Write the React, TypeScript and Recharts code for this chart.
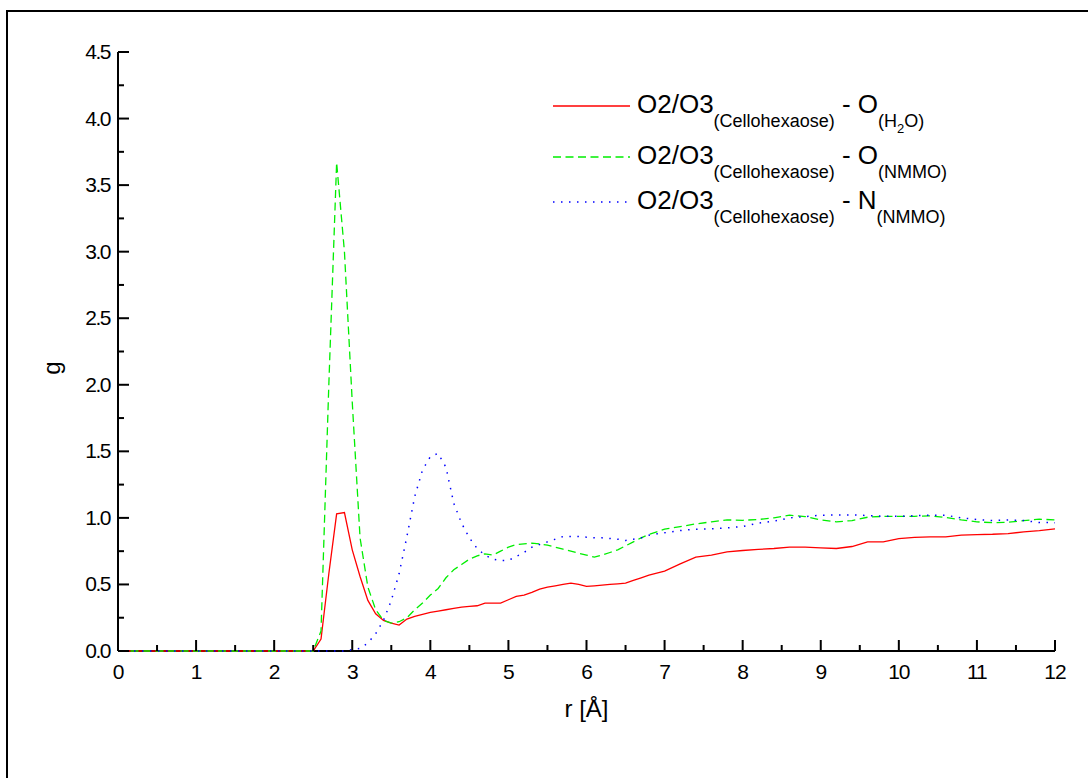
import React from 'react';
import { LineChart, Line, XAxis, YAxis } from 'recharts';

// r grid (Å)
const r = [
  0, 0.5, 1, 1.5, 2, 2.4, 2.5, 2.6, 2.7, 2.8, 2.9, 3, 3.1, 3.2, 3.3, 3.4, 3.5, 3.6, 3.7, 3.8, 3.9,
  4, 4.1, 4.2, 4.3, 4.4, 4.5, 4.6, 4.7, 4.8, 4.9, 5, 5.1, 5.2, 5.3, 5.4, 5.5, 5.6, 5.7, 5.8, 5.9,
  6, 6.1, 6.2, 6.3, 6.4, 6.5, 6.6, 6.7, 6.8, 6.9, 7, 7.2, 7.4, 7.6, 7.8, 8, 8.2, 8.4, 8.6, 8.8,
  9, 9.2, 9.4, 9.6, 9.8, 10, 10.2, 10.4, 10.6, 10.8, 11, 11.2, 11.4, 11.6, 11.8, 12,
];

// O2/O3 - O(H2O)
const gWater = [
  0, 0, 0, 0, 0, 0, 0, 0.09, 0.58, 1.03, 1.04, 0.76, 0.56, 0.38, 0.28, 0.23, 0.21, 0.195, 0.24, 0.26, 0.275,
  0.29, 0.3, 0.31, 0.32, 0.33, 0.335, 0.34, 0.36, 0.36, 0.36, 0.385, 0.41, 0.42, 0.44, 0.465, 0.48, 0.49, 0.5, 0.51, 0.5,
  0.485, 0.49, 0.495, 0.5, 0.505, 0.51, 0.53, 0.55, 0.57, 0.585, 0.6, 0.655, 0.705, 0.72, 0.745, 0.755, 0.763, 0.77, 0.78, 0.78,
  0.775, 0.77, 0.785, 0.82, 0.82, 0.845, 0.853, 0.858, 0.858, 0.87, 0.875, 0.877, 0.882, 0.895, 0.904, 0.917,
];

// O2/O3 - O(NMMO)
const gOxNmmo = [
  0, 0, 0, 0, 0, 0, 0, 0.15, 2.0, 3.67, 3.0, 1.87, 0.85, 0.48, 0.31, 0.23, 0.21, 0.22, 0.25, 0.31, 0.36,
  0.42, 0.47, 0.55, 0.61, 0.65, 0.69, 0.715, 0.73, 0.72, 0.75, 0.78, 0.8, 0.805, 0.81, 0.805, 0.795, 0.78, 0.765, 0.75, 0.735,
  0.72, 0.705, 0.72, 0.74, 0.76, 0.79, 0.82, 0.85, 0.875, 0.895, 0.915, 0.935, 0.955, 0.97, 0.985, 0.982, 0.988, 1.0, 1.02, 1.01,
  0.985, 0.97, 0.98, 1.005, 1.012, 1.012, 1.012, 1.015, 1.003, 0.985, 0.97, 0.964, 0.967, 0.98, 0.99, 0.985,
];

// O2/O3 - N(NMMO)
const gNNmmo = [
  0, 0, 0, 0, 0, 0, 0, 0, 0, 0, 0, 0.01, 0.02, 0.06, 0.13, 0.23, 0.38, 0.58, 0.86, 1.16, 1.36,
  1.46, 1.485, 1.38, 1.11, 0.96, 0.85, 0.77, 0.72, 0.69, 0.68, 0.68, 0.71, 0.74, 0.78, 0.8, 0.82, 0.84, 0.86, 0.86, 0.86,
  0.855, 0.85, 0.85, 0.845, 0.84, 0.83, 0.84, 0.85, 0.87, 0.88, 0.888, 0.905, 0.915, 0.918, 0.925, 0.935, 0.96, 0.975, 1.0, 1.01,
  1.02, 1.022, 1.022, 1.018, 1.012, 1.012, 1.016, 1.02, 1.02, 1.0, 0.988, 0.98, 0.984, 0.98, 0.965, 0.964,
];

const xTicks = [0, 0.5, 1, 1.5, 2, 2.5, 3, 3.5, 4, 4.5, 5, 5.5, 6, 6.5, 7, 7.5, 8, 8.5, 9, 9.5, 10, 10.5, 11, 11.5, 12];
const yTicks = [0, 0.25, 0.5, 0.75, 1, 1.25, 1.5, 1.75, 2, 2.25, 2.5, 2.75, 3, 3.25, 3.5, 3.75, 4, 4.25, 4.5];

const data = r.map((v, i) => ({ r: v, water: gWater[i], oxn: gOxNmmo[i], nn: gNNmmo[i] }));

const FONT = '"Liberation Sans", Arial, sans-serif';
const halfStep = (v: number) => Math.abs(v * 2 - Math.round(v * 2)) < 1e-6;

const BottomTick = (props: any) => {
  const { x, y, payload } = props;
  const v = payload.value;
  const major = Number.isInteger(v);
  return (
    <g>
      <line x1={x} x2={x} y1={y} y2={y - (major ? 11 : 6)} stroke="#000" strokeWidth={2} />
      {major && (
        <text x={x} y={y + 28} textAnchor="middle" fontSize={21} fontFamily={FONT} letterSpacing={-1} fill="#000">
          {v}
        </text>
      )}
    </g>
  );
};

const TopTick = (props: any) => {
  const { x, y, payload } = props;
  const major = Number.isInteger(payload.value);
  return <line x1={x} x2={x} y1={y} y2={y + (major ? 11 : 6)} stroke="#000" strokeWidth={2} />;
};

const LeftTick = (props: any) => {
  const { x, y, payload } = props;
  const v = payload.value;
  const major = halfStep(v);
  return (
    <g>
      <line x1={x} x2={x + (major ? 11 : 6)} y1={y} y2={y} stroke="#000" strokeWidth={2} />
      {major && (
        <text x={x - 8} y={y + 7} textAnchor="end" fontSize={21} fontFamily={FONT} letterSpacing={-1.5} fill="#000">
          {v.toFixed(1)}
        </text>
      )}
    </g>
  );
};

const RightTick = (props: any) => {
  const { x, y, payload } = props;
  const major = halfStep(payload.value);
  return <line x1={x} x2={x - (major ? 11 : 6)} y1={y} y2={y} stroke="#000" strokeWidth={2} />;
};

const legendRows = [
  { color: '#ff0000', dash: undefined, main: 'O', sub: 'water', y: 21 },
  { color: '#00ee00', dash: '8 4.5', main: 'O', sub: '(NMMO)', y: 72 },
  { color: '#0000ff', dash: '1.5 6.5', main: 'N', sub: '(NMMO)', y: 117 },
];

const LegendBox = () => (
  <svg width={430} height={150} style={{ display: 'block', overflow: 'visible' }}>
    {legendRows.map((row) => (
      <g key={row.y}>
        <line x1={0} x2={77} y1={row.y} y2={row.y} stroke={row.color} strokeWidth={1.3} strokeDasharray={row.dash} />
        <text x={84} y={row.y + 7} fontFamily={FONT} fill="#000">
          <tspan fontSize={26}>O2/O3</tspan>
          <tspan fontSize={18} dy={14}>(Cellohexaose)</tspan>
          <tspan fontSize={26} dy={-14}>{' - ' + row.main}</tspan>
          {row.sub === 'water' ? (
            <>
              <tspan fontSize={18} dy={14}>(H</tspan>
              <tspan fontSize={13} dy={6}>2</tspan>
              <tspan fontSize={18} dy={-6}>O)</tspan>
            </>
          ) : (
            <tspan fontSize={18} dy={14}>{row.sub}</tspan>
          )}
        </text>
      </g>
    ))}
  </svg>
);

export default function App() {
  return (
    <div style={{ position: 'absolute', left: 0, top: 0, width: 1088, height: 778, overflow: 'hidden', background: '#fff' }}>
      <div
        style={{
          position: 'absolute',
          left: 6,
          top: 10,
          width: 1100,
          height: 800,
          borderLeft: '2px solid #000',
          borderTop: '2px solid #000',
        }}
      />
      <div style={{ position: 'absolute', left: 0, top: 0 }}>
        <LineChart width={1088} height={778} data={data} margin={{ top: 52, right: 33, bottom: 97, left: 0 }}>
          <XAxis
            dataKey="r"
            type="number"
            domain={[0, 12]}
            ticks={xTicks}
            interval={0}
            height={30}
            tickSize={0}
            tickMargin={0}
            tickLine={false}
            axisLine={{ stroke: '#000', strokeWidth: 2 }}
            tick={<BottomTick />}
            label={(p: any) => (
              <text
                x={p.viewBox.x + p.viewBox.width / 2}
                y={717}
                textAnchor="middle"
                fontSize={24}
                fontFamily={FONT}
                fill="#000"
              >
                r [Å]
              </text>
            )}
          />
          <XAxis
            xAxisId="top"
            orientation="top"
            dataKey="r"
            type="number"
            domain={[0, 12]}
            ticks={xTicks}
            interval={0}
            height={0}
            tickSize={0}
            tickMargin={0}
            tickLine={false}
            axisLine={{ stroke: '#000', strokeWidth: 2 }}
            tick={<TopTick />}
          />
          <YAxis
            type="number"
            domain={[0, 4.5]}
            ticks={yTicks}
            interval={0}
            width={118}
            tickSize={0}
            tickMargin={0}
            tickLine={false}
            axisLine={{ stroke: '#000', strokeWidth: 2 }}
            tick={<LeftTick />}
            label={() => (
              <text
                x={60}
                y={368}
                transform="rotate(-90 60 368)"
                textAnchor="middle"
                fontSize={24}
                fontFamily={FONT}
                fill="#000"
              >
                g
              </text>
            )}
          />
          <YAxis
            yAxisId="right"
            orientation="right"
            type="number"
            domain={[0, 4.5]}
            ticks={yTicks}
            interval={0}
            width={0}
            tickSize={0}
            tickMargin={0}
            tickLine={false}
            axisLine={{ stroke: '#000', strokeWidth: 2 }}
            tick={<RightTick />}
          />
          <Line
            type="linear"
            dataKey="water"
            stroke="#ff0000"
            strokeWidth={1.3}
            dot={false}
            isAnimationActive={false}
            zIndex={600}
          />
          <Line
            type="linear"
            dataKey="oxn"
            stroke="#00ee00"
            strokeWidth={1.3}
            strokeDasharray="8 4.5"
            dot={false}
            isAnimationActive={false}
            zIndex={601}
          />
          <Line
            type="linear"
            dataKey="nn"
            stroke="#0000ff"
            strokeWidth={1.5}
            strokeDasharray="1.5 6.5"
            dot={false}
            isAnimationActive={false}
            zIndex={602}
          />
        </LineChart>
      </div>
      <div style={{ position: 'absolute', left: 553, top: 85 }}>
        <LegendBox />
      </div>
    </div>
  );
}
